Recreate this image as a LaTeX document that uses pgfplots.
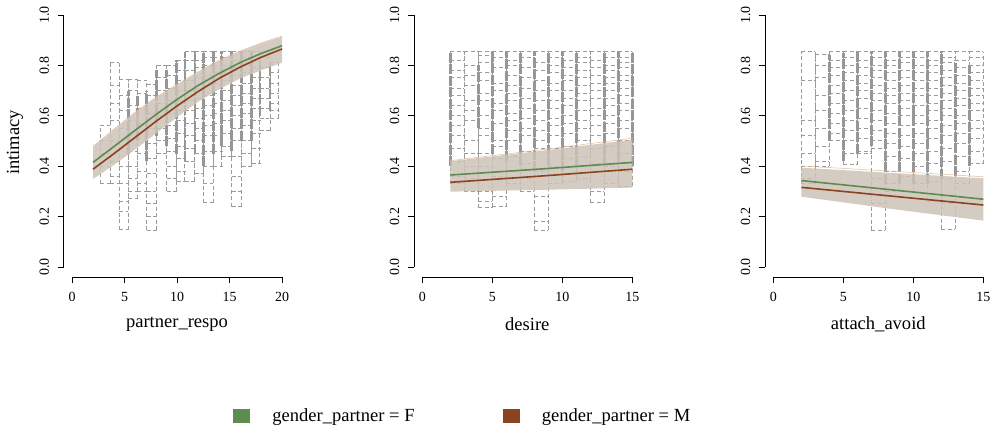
\documentclass[border=0pt]{standalone}
\usepackage{fontspec}
\setmainfont{Liberation Serif}
\usepackage{pgfplots}
\pgfplotsset{compat=1.18}
\usepackage{pgfplotstable}

\definecolor{fgreen}{RGB}{94,139,80}
\definecolor{mbrown}{RGB}{139,66,30}
\definecolor{band}{RGB}{205,195,184}
\definecolor{bandedge}{RGB}{226,186,150}
\definecolor{rug}{RGB}{155,155,155}
\definecolor{rugdark}{RGB}{150,150,150}

% ---- panel 1 (partner_respo) ----
\pgfplotstableread{
xl xr lo hi
2.67 3.62 0.33 0.56
3.62 4.48 0.33 0.81
4.48 5.37 0.147 0.745
5.37 6.22 0.27 0.745
6.22 7.11 0.30 0.74
7.11 8.06 0.145 0.725
8.06 9.02 0.45 0.80
9.02 9.97 0.30 0.80
9.97 10.76 0.34 0.82
10.76 11.71 0.34 0.855
11.71 12.51 0.37 0.855
12.51 13.46 0.255 0.855
13.46 14.25 0.40 0.855
14.25 15.21 0.44 0.855
15.21 16.16 0.24 0.855
16.16 17.11 0.40 0.855
17.11 17.90 0.41 0.855
17.90 18.86 0.54 0.83
18.86 19.65 0.59 0.81
}\boxA
\pgfplotstableread{
x y
5.37 0.45
5.37 0.70
nan nan
6.22 0.50
6.22 0.68
nan nan
7.11 0.42
7.11 0.70
nan nan
8.06 0.52
8.06 0.78
nan nan
9.02 0.48
9.02 0.78
nan nan
9.97 0.45
9.97 0.82
nan nan
10.76 0.42
10.76 0.855
nan nan
11.71 0.45
11.71 0.855
nan nan
12.51 0.40
12.51 0.855
nan nan
13.46 0.45
13.46 0.855
nan nan
14.25 0.48
14.25 0.855
nan nan
15.21 0.46
15.21 0.855
nan nan
16.16 0.50
16.16 0.855
nan nan
17.11 0.50
17.11 0.855
nan nan
17.90 0.60
17.90 0.83
nan nan
18.86 0.62
18.86 0.81
}\coreA
\pgfplotstableread{
x y
2.67 0.56
2.67 0.50
2.67 0.45
2.67 0.40
2.67 0.33
3.62 0.81
3.62 0.72
3.62 0.65
3.62 0.58
3.62 0.50
3.62 0.42
3.62 0.36
3.62 0.33
4.48 0.745
4.48 0.68
4.48 0.62
4.48 0.55
4.48 0.47
4.48 0.40
4.48 0.33
4.48 0.26
4.48 0.22
4.48 0.147
5.37 0.745
5.37 0.70
5.37 0.64
5.37 0.58
5.37 0.52
5.37 0.46
5.37 0.40
5.37 0.35
5.37 0.30
5.37 0.27
6.22 0.74
6.22 0.69
6.22 0.63
6.22 0.57
6.22 0.51
6.22 0.45
6.22 0.38
6.22 0.33
6.22 0.30
7.11 0.725
7.11 0.68
7.11 0.61
7.11 0.55
7.11 0.49
7.11 0.43
7.11 0.37
7.11 0.30
7.11 0.25
7.11 0.20
7.11 0.145
8.06 0.80
8.06 0.75
8.06 0.70
8.06 0.65
8.06 0.60
8.06 0.55
8.06 0.50
8.06 0.45
9.02 0.80
9.02 0.76
9.02 0.71
9.02 0.66
9.02 0.61
9.02 0.56
9.02 0.51
9.02 0.46
9.02 0.40
9.02 0.35
9.02 0.30
9.97 0.82
9.97 0.78
9.97 0.74
9.97 0.70
9.97 0.66
9.97 0.62
9.97 0.58
9.97 0.53
9.97 0.48
9.97 0.43
9.97 0.38
9.97 0.34
10.76 0.855
10.76 0.82
10.76 0.78
10.76 0.74
10.76 0.70
10.76 0.66
10.76 0.62
10.76 0.57
10.76 0.52
10.76 0.47
10.76 0.42
10.76 0.34
11.71 0.855
11.71 0.82
11.71 0.79
11.71 0.75
11.71 0.71
11.71 0.67
11.71 0.63
11.71 0.59
11.71 0.55
11.71 0.50
11.71 0.45
11.71 0.37
12.51 0.855
12.51 0.83
12.51 0.80
12.51 0.76
12.51 0.72
12.51 0.68
12.51 0.64
12.51 0.60
12.51 0.56
12.51 0.52
12.51 0.46
12.51 0.40
12.51 0.33
12.51 0.255
13.46 0.855
13.46 0.83
13.46 0.80
13.46 0.77
13.46 0.73
13.46 0.69
13.46 0.65
13.46 0.61
13.46 0.57
13.46 0.52
13.46 0.46
13.46 0.40
14.25 0.855
14.25 0.83
14.25 0.80
14.25 0.77
14.25 0.74
14.25 0.70
14.25 0.66
14.25 0.62
14.25 0.58
14.25 0.53
14.25 0.48
14.25 0.44
15.21 0.855
15.21 0.82
15.21 0.79
15.21 0.76
15.21 0.72
15.21 0.68
15.21 0.64
15.21 0.60
15.21 0.55
15.21 0.50
15.21 0.44
15.21 0.36
15.21 0.30
15.21 0.24
16.16 0.855
16.16 0.83
16.16 0.80
16.16 0.77
16.16 0.73
16.16 0.69
16.16 0.65
16.16 0.61
16.16 0.56
16.16 0.50
16.16 0.45
16.16 0.40
17.11 0.855
17.11 0.82
17.11 0.79
17.11 0.75
17.11 0.71
17.11 0.67
17.11 0.63
17.11 0.58
17.11 0.53
17.11 0.47
17.11 0.41
17.90 0.83
17.90 0.79
17.90 0.75
17.90 0.71
17.90 0.67
17.90 0.63
17.90 0.59
17.90 0.54
18.86 0.81
18.86 0.77
18.86 0.73
18.86 0.69
18.86 0.65
18.86 0.62
18.86 0.59
}\hA

% ---- panel 2 (desire) ----
\pgfplotstableread{
xl xr lo hi
2 3 0.33 0.855
3 4 0.30 0.855
4 5 0.235 0.855
5 6 0.24 0.855
6 7 0.33 0.855
7 8 0.30 0.855
8 9 0.145 0.855
9 10 0.33 0.855
10 11 0.34 0.855
11 12 0.35 0.855
12 13 0.255 0.855
13 14 0.33 0.855
14 15 0.32 0.855
}\boxB
\pgfplotstableread{
x y
2 0.40
2 0.855
nan nan
4 0.55
4 0.80
nan nan
5 0.45
5 0.855
nan nan
6 0.42
6 0.855
nan nan
7 0.40
7 0.855
nan nan
8 0.38
8 0.855
nan nan
9 0.40
9 0.855
nan nan
10 0.38
10 0.855
nan nan
11 0.40
11 0.855
nan nan
13 0.40
13 0.855
nan nan
14 0.42
14 0.855
nan nan
15 0.40
15 0.855
}\coreB
\pgfplotstableread{
x y
2 0.82
2 0.78
2 0.75
2 0.71
2 0.68
2 0.64
2 0.60
2 0.56
2 0.52
2 0.47
2 0.42
2 0.36
3 0.80
3 0.76
3 0.72
3 0.66
3 0.62
3 0.58
3 0.50
3 0.45
3 0.40
3 0.35
4 0.84
4 0.81
4 0.77
4 0.74
4 0.69
4 0.66
4 0.60
4 0.55
4 0.52
4 0.45
4 0.40
4 0.30
4 0.26
5 0.83
5 0.79
5 0.73
5 0.70
5 0.65
5 0.62
5 0.57
5 0.50
5 0.48
5 0.43
5 0.36
5 0.28
6 0.82
6 0.80
6 0.76
6 0.72
6 0.69
6 0.66
6 0.61
6 0.58
6 0.54
6 0.50
6 0.44
6 0.38
7 0.83
7 0.79
7 0.75
7 0.71
7 0.67
7 0.63
7 0.59
7 0.55
7 0.52
7 0.46
7 0.41
7 0.35
8 0.81
8 0.78
8 0.74
8 0.70
8 0.66
8 0.62
8 0.58
8 0.54
8 0.50
8 0.47
8 0.38
8 0.28
8 0.18
9 0.83
9 0.80
9 0.77
9 0.73
9 0.70
9 0.66
9 0.63
9 0.59
9 0.56
9 0.52
9 0.47
9 0.40
10 0.82
10 0.79
10 0.76
10 0.74
10 0.70
10 0.67
10 0.64
10 0.60
10 0.57
10 0.53
10 0.48
10 0.43
10 0.37
11 0.83
11 0.81
11 0.78
11 0.75
11 0.72
11 0.69
11 0.66
11 0.62
11 0.58
11 0.55
11 0.50
11 0.44
12 0.82
12 0.79
12 0.76
12 0.73
12 0.70
12 0.67
12 0.63
12 0.60
12 0.56
12 0.52
12 0.47
12 0.41
12 0.30
13 0.83
13 0.80
13 0.78
13 0.75
13 0.73
13 0.70
13 0.67
13 0.64
13 0.60
13 0.57
13 0.53
13 0.48
13 0.40
14 0.83
14 0.81
14 0.79
14 0.76
14 0.74
14 0.71
14 0.68
14 0.65
14 0.62
14 0.58
14 0.55
14 0.50
14 0.45
14 0.38
}\hB

% ---- panel 3 (attach_avoid) ----
\pgfplotstableread{
xl xr lo hi
2 3 0.33 0.855
3 4 0.40 0.845
4 5 0.50 0.855
5 6 0.405 0.855
6 7 0.45 0.855
7 8 0.145 0.855
8 9 0.30 0.855
9 10 0.30 0.855
10 11 0.33 0.855
11 12 0.26 0.855
12 13 0.15 0.855
13 14 0.33 0.855
14 15 0.41 0.855
}\boxC
\pgfplotstableread{
x y
4 0.50
4 0.84
nan nan
5 0.42
5 0.85
nan nan
6 0.45
6 0.855
nan nan
7 0.48
7 0.855
nan nan
8 0.33
8 0.855
nan nan
9 0.33
9 0.855
nan nan
10 0.33
10 0.855
nan nan
11 0.33
11 0.855
nan nan
12 0.35
12 0.855
nan nan
13 0.36
13 0.82
nan nan
14 0.40
14 0.80
}\coreC
\pgfplotstableread{
x y
2 0.74
2 0.58
2 0.52
2 0.45
2 0.40
2 0.35
3 0.80
3 0.75
3 0.68
3 0.62
3 0.55
3 0.48
3 0.42
4 0.82
4 0.79
4 0.76
4 0.72
4 0.69
4 0.65
4 0.61
4 0.57
4 0.53
5 0.83
5 0.80
5 0.77
5 0.74
5 0.70
5 0.66
5 0.62
5 0.58
5 0.54
5 0.50
5 0.45
6 0.82
6 0.79
6 0.76
6 0.73
6 0.70
6 0.67
6 0.63
6 0.59
6 0.55
6 0.51
6 0.46
7 0.83
7 0.80
7 0.78
7 0.75
7 0.72
7 0.69
7 0.66
7 0.62
7 0.58
7 0.54
7 0.50
7 0.47
7 0.35
7 0.25
8 0.82
8 0.80
8 0.77
8 0.74
8 0.71
8 0.68
8 0.65
8 0.61
8 0.57
8 0.53
8 0.49
8 0.44
8 0.38
8 0.33
9 0.83
9 0.81
9 0.78
9 0.75
9 0.72
9 0.69
9 0.66
9 0.63
9 0.60
9 0.56
9 0.52
9 0.48
9 0.43
9 0.36
10 0.83
10 0.80
10 0.77
10 0.74
10 0.71
10 0.68
10 0.64
10 0.60
10 0.57
10 0.53
10 0.49
10 0.45
10 0.40
11 0.82
11 0.80
11 0.77
11 0.74
11 0.71
11 0.68
11 0.65
11 0.62
11 0.58
11 0.55
11 0.51
11 0.46
11 0.41
11 0.34
12 0.83
12 0.81
12 0.78
12 0.75
12 0.72
12 0.69
12 0.66
12 0.63
12 0.60
12 0.56
12 0.52
12 0.47
12 0.42
12 0.35
12 0.25
13 0.82
13 0.79
13 0.76
13 0.73
13 0.70
13 0.67
13 0.64
13 0.60
13 0.57
13 0.53
13 0.49
13 0.44
13 0.38
14 0.83
14 0.80
14 0.77
14 0.74
14 0.71
14 0.68
14 0.65
14 0.62
14 0.58
14 0.55
14 0.51
14 0.46
}\hC

\pgfplotsset{
  rpanel/.style={
    scale only axis, width=226.8bp, height=272.2bp, anchor=south west,
    ymin=-0.04, ymax=1.04,
    axis line style={draw=none},
    tick pos=left, tick align=outside,
    major tick length=6bp,
    tick style={black, line width=0.8bp},
    ytick={0,0.2,0.4,0.6,0.8,1},
    minor tick num=0,
    unbounded coords=jump,
    /pgf/number format/assume math mode=true,
    ticklabel style={font=\fontsize{14}{16}\selectfont},
    yticklabel style={xshift=-5bp, rotate=90, anchor=south,
      /pgf/number format/fixed, /pgf/number format/fixed zerofill,
      /pgf/number format/precision=1},
    xticklabel style={yshift=-6bp, /pgf/number format/fixed, /pgf/number format/precision=0},
    label style={font=\fontsize{18.6}{22}\selectfont},
    xlabel style={at={(axis description cs:0.5,-0.172)}, anchor=center},
    ylabel style={at={(axis description cs:-0.2143,0.495)}, anchor=center},
    clip=false,
  },
  rugline/.style={draw=rug, line width=1bp, dash pattern=on 4bp off 2.5bp},
  rugv/.style={draw=none, mark=none, forget plot,
    error bars/.cd, y dir=plus, y explicit, error mark=none,
    error bar style={rugline}},
  rugcore/.style={draw=rugdark, line width=2.8bp, dash pattern=on 10bp off 1.5bp, mark=none, forget plot},
  rugh/.style={draw=none, mark=none, forget plot,
    error bars/.cd, x dir=plus, x explicit, error mark=none,
    error bar style={rugline}},
  rughf/.style={draw=none, mark=none, forget plot,
    error bars/.cd, x dir=plus, x fixed=#1, error mark=none,
    error bar style={rugline}},
  bandfill/.style={fill=band, draw=none, fill opacity=0.85, forget plot},
  bandline/.style={bandedge, line width=0.5bp, forget plot},
  fline/.style={fgreen, line width=1.6bp, forget plot},
  mline/.style={mbrown, line width=1.6bp, forget plot},
}

\begin{document}
\begin{tikzpicture}[x=1bp,y=1bp]
\path[use as bounding box] (0,0) rectangle (990,434);

% ================= Panel 1 =================
\begin{axis}[rpanel, at={(63.6bp,156.9bp)},
  xmin=-0.8, xmax=20.8, xtick={0,5,10,15,20},
  xlabel={partner\_respo}, ylabel={intimacy}]
\addplot[rugv] table[x=xl, y=lo, y error plus expr=\thisrow{hi}-\thisrow{lo}] {\boxA};
\addplot[rugv] table[x=xr, y=lo, y error plus expr=\thisrow{hi}-\thisrow{lo}] {\boxA};
\addplot[rugh] table[x=xl, y=hi, x error plus expr=\thisrow{xr}-\thisrow{xl}] {\boxA};
\addplot[rugh] table[x=xl, y=lo, x error plus expr=\thisrow{xr}-\thisrow{xl}] {\boxA};
\addplot[rugcore] table[x=x, y=y] {\coreA};
\addplot[rughf=0.9] table[x=x, y=y] {\hA};
\addplot[bandfill] coordinates {(2,0.477)(4,0.545)(6,0.612)(8,0.672)(10,0.722)(12,0.772)(14,0.818)(16,0.855)(18,0.887)(20,0.914)
  (20,0.811)(18,0.780)(16,0.748)(14,0.705)(12,0.655)(10,0.595)(8,0.530)(6,0.466)(4,0.405)(2,0.349)} -- cycle;
\addplot[bandline] coordinates {(2,0.479)(4,0.547)(6,0.614)(8,0.674)(10,0.724)(12,0.774)(14,0.820)(16,0.857)(18,0.889)(20,0.916)};
\addplot[fline] coordinates {(2,0.415)(4,0.478)(6,0.542)(8,0.605)(10,0.665)(12,0.720)(14,0.768)(16,0.811)(18,0.847)(20,0.878)};
\addplot[mline] coordinates {(2,0.388)(4,0.450)(6,0.514)(8,0.578)(10,0.639)(12,0.696)(14,0.748)(16,0.793)(18,0.832)(20,0.865)};
\draw[black, line width=0.8bp] (axis cs:0,-0.04) -- (axis cs:20,-0.04);
\draw[black, line width=0.8bp] (axis cs:-0.8,0) -- (axis cs:-0.8,1);
\end{axis}

% ================= Panel 2 =================
\begin{axis}[rpanel, at={(413.9bp,156.9bp)},
  xmin=-0.6, xmax=15.6, xtick={0,5,10,15},
  xlabel={desire},
  legend style={at={(axis description cs:-0.7976,-0.5085)}, anchor=west,
    draw=none, fill=none, inner sep=0pt, outer sep=0pt,
    font=\fontsize{18.6}{22}\selectfont,
    /tikz/every even column/.append style={column sep=86bp}},
  legend columns=2]
\addplot[rugv] table[x=xl, y=lo, y error plus expr=\thisrow{hi}-\thisrow{lo}] {\boxB};
\addplot[rugv] table[x=xr, y=lo, y error plus expr=\thisrow{hi}-\thisrow{lo}] {\boxB};
\addplot[rugh] table[x=xl, y=hi, x error plus expr=\thisrow{xr}-\thisrow{xl}] {\boxB};
\addplot[rugh] table[x=xl, y=lo, x error plus expr=\thisrow{xr}-\thisrow{xl}] {\boxB};
\addplot[rugcore] table[x=x, y=y] {\coreB};
\addplot[rughf=1] table[x=x, y=y] {\hB};
\addplot[bandfill] coordinates {(2,0.420)(8.5,0.461)(15,0.505)(15,0.315)(8.5,0.306)(2,0.299)} -- cycle;
\addplot[bandline] coordinates {(2,0.422)(8.5,0.465)(15,0.511)};
\addplot[fline] coordinates {(2,0.365)(8.5,0.389)(15,0.415)};
\addplot[mline] coordinates {(2,0.336)(8.5,0.361)(15,0.388)};
\draw[black, line width=0.8bp] (axis cs:0,-0.04) -- (axis cs:15,-0.04);
\draw[black, line width=0.8bp] (axis cs:-0.6,0) -- (axis cs:-0.6,1);
\addlegendimage{legend image code/.code={\fill[fgreen] (0bp,-6.5bp) rectangle (16bp,6.5bp); \path (37bp,0bp);}}
\addlegendentry{gender\_partner = F}
\addlegendimage{legend image code/.code={\fill[mbrown] (0bp,-6.5bp) rectangle (16bp,6.5bp); \path (37bp,0bp);}}
\addlegendentry{gender\_partner = M}
\end{axis}

% ================= Panel 3 =================
\begin{axis}[rpanel, at={(764.9bp,156.9bp)},
  xmin=-0.6, xmax=15.6, xtick={0,5,10,15},
  xlabel={attach\_avoid}]
\addplot[rugv] table[x=xl, y=lo, y error plus expr=\thisrow{hi}-\thisrow{lo}] {\boxC};
\addplot[rugv] table[x=xr, y=lo, y error plus expr=\thisrow{hi}-\thisrow{lo}] {\boxC};
\addplot[rugh] table[x=xl, y=hi, x error plus expr=\thisrow{xr}-\thisrow{xl}] {\boxC};
\addplot[rugh] table[x=xl, y=lo, x error plus expr=\thisrow{xr}-\thisrow{xl}] {\boxC};
\addplot[rugcore] table[x=x, y=y] {\coreC};
\addplot[rughf=1] table[x=x, y=y] {\hC};
\addplot[bandfill] coordinates {(2,0.394)(8.5,0.373)(15,0.352)(15,0.184)(8.5,0.230)(2,0.279)} -- cycle;
\addplot[bandline] coordinates {(2,0.401)(8.5,0.380)(15,0.358)};
\addplot[fline] coordinates {(2,0.343)(8.5,0.306)(15,0.269)};
\addplot[mline] coordinates {(2,0.316)(8.5,0.281)(15,0.246)};
\draw[black, line width=0.8bp] (axis cs:0,-0.04) -- (axis cs:15,-0.04);
\draw[black, line width=0.8bp] (axis cs:-0.6,0) -- (axis cs:-0.6,1);
\end{axis}
\end{tikzpicture}
\end{document}
